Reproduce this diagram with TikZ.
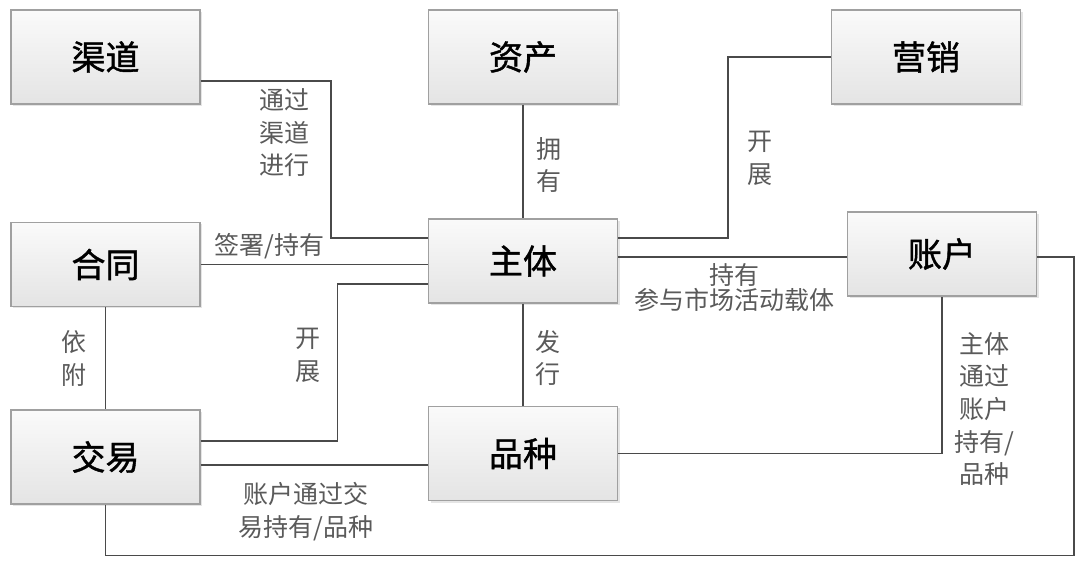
\documentclass[tikz,border=0pt]{standalone}
\usepackage{fontspec}
\newfontfamily\cjk{Noto Sans CJK SC}
\newfontfamily\cjkbox[FakeBold=1.2]{Noto Sans CJK SC}
\usetikzlibrary{shadows}
\definecolor{linkgray}{HTML}{4A4A4A}
\definecolor{boxedge}{HTML}{A0A0A0}
\definecolor{boxtop}{HTML}{FAFAFA}
\definecolor{boxbottom}{HTML}{E4E4E4}
\definecolor{notegray}{HTML}{5A5A5A}
\begin{document}
\begin{tikzpicture}[x=1pt, y=-1pt,
  entity/.style={draw=boxedge, line width=1.2pt, top color=boxtop, bottom color=boxbottom,
    minimum width=189pt, minimum height=94pt, inner sep=0pt,
    font=\cjkbox\fontsize{34}{36}\selectfont,
    drop shadow={opacity=0.2, shadow xshift=2pt, shadow yshift=-2pt}},
  flat/.style={entity, minimum height=84pt},
  link/.style={draw=linkgray, line width=1.9pt},
  note/.style={text=notegray, align=center, inner sep=0pt,
    font=\cjk\fontsize{25}{32.7}\selectfont}]
  \useasboundingbox[fill=white] (0,0) rectangle (1080,561);

  \node[entity] (qudao) at (105.5,57) {渠道};
  \node[entity] (zichan) at (523,57) {资产};
  \node[entity] (yingxiao) at (926,57) {营销};
  \node[flat] (hetong) at (105.5,264.5) {合同};
  \node[flat] (zhuti) at (523,261) {主体};
  \node[flat] (zhanghu) at (942,254) {账户};
  \node[entity] (jiaoyi) at (105.5,457) {交易};
  \node[entity] (pinzhong) at (523,453.5) {品种};

  \coordinate (qbend) at (331,160);
  \coordinate (ybend) at (728,150);
  \coordinate (jbend) at (337.5,360);
  \coordinate (loop) at (1074,555.5);
  \coordinate (jp) at ([yshift=-8pt]jiaoyi.east);
  \coordinate (za) at ([yshift=4pt]zhuti.east);

  \draw[link] ([yshift=-24pt]qudao.east) -| (qbend) |- ([yshift=23.4pt]zhuti.west);
  \draw[link] (hetong.east) -- (hetong.east -| zhuti.west);
  \draw[link] ([yshift=16pt]jiaoyi.east) -| (jbend) |- ([yshift=-23pt]zhuti.west);
  \draw[link] (jp) -- (jp -| pinzhong.west);
  \draw[link] (zichan.south) -- (zhuti.north);
  \draw[link] (yingxiao.west) -| (ybend) |- ([yshift=23.4pt]zhuti.east);
  \draw[link] (za) -- (za -| zhanghu.west);
  \draw[link] (pinzhong.east) -| (zhanghu.south);
  \draw[link] (zhuti.south) -- (pinzhong.north);
  \draw[link] (hetong.south) -- (jiaoyi.north);
  \draw[link] (jiaoyi.south) |- (loop) |- ([yshift=-3pt]zhanghu.east);

  \node[note] (qnote) at (284,132.6) {通过\\渠道\\进行};
  \node[note] (hnote) at (269.5,246) {签署/持有};
  \node[note] (znote) at (549,165) {拥\\有};
  \node[note] (ynote) at (760,158.5) {开\\展};
  \node[note] (anote) at (734.5,288) {持有\\[-7.7pt]参与市场活动载体};
  \node[note] (fnote) at (74,358.5) {依\\附};
  \node[note] (kaizhan) at (308,355) {开\\展};
  \node[note] (pnote) at (548,358) {发\\行};
  \node[note] (jnote) at (305.6,511.5) {账户通过交\\易持有/品种};
  \node[note] (cnote) at (984.6,409) {主体\\通过\\账户\\持有/\\品种};
\end{tikzpicture}
\end{document}
